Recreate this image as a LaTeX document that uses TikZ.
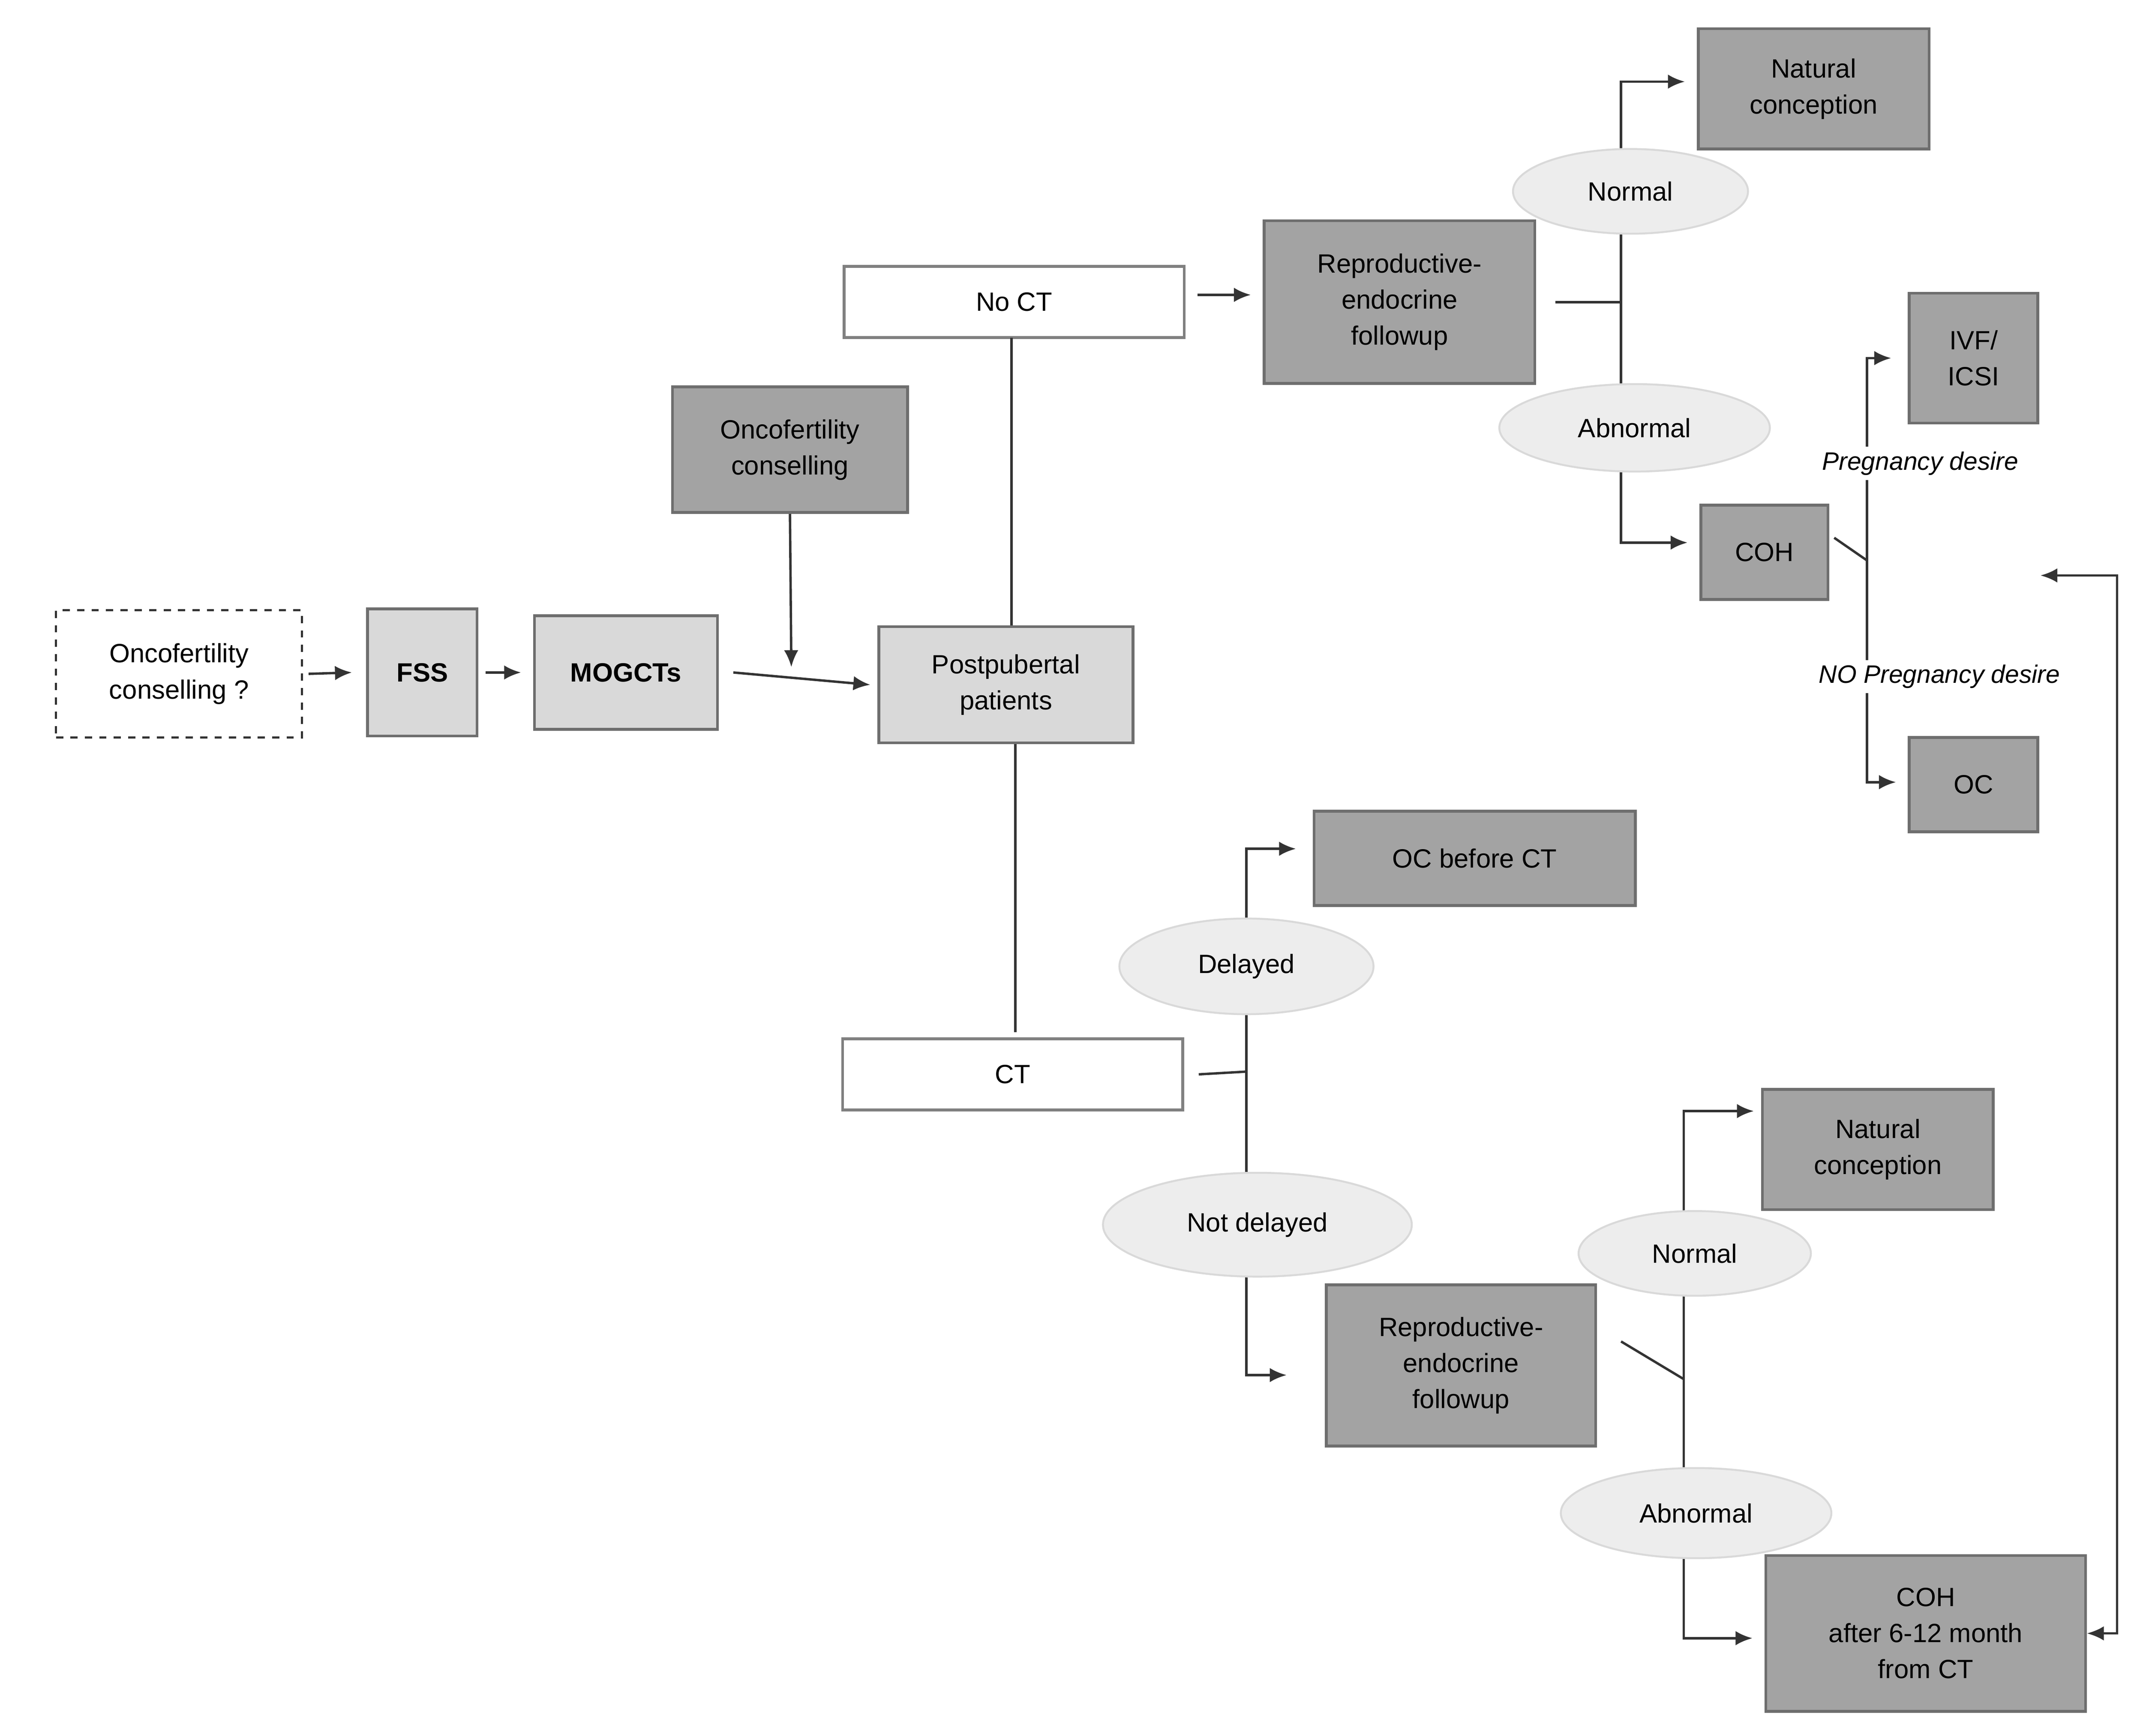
\documentclass[tikz,border=0pt]{standalone}
\usepackage{fontspec}
\setmainfont{Liberation Sans}
\usetikzlibrary{arrows.meta,shapes.geometric}
\definecolor{dk}{HTML}{A3A3A3}
\definecolor{dkb}{HTML}{6E6E6E}
\definecolor{lt}{HTML}{D9D9D9}
\definecolor{el}{HTML}{EDEDED}
\definecolor{ln}{HTML}{333333}
\begin{document}
\begin{tikzpicture}[x=0.02cm,y=-0.02cm,
  font=\fontsize{11}{15}\selectfont,
  box/.style={draw=dkb,line width=1.2pt,align=center,inner sep=0pt},
  dark/.style={box,fill=dk},
  light/.style={box,fill=lt},
  white/.style={box,fill=white,draw=gray},
  ell/.style={ellipse,draw=lt,fill=el,line width=0.8pt,inner sep=0pt,align=center},
  lab/.style={fill=white,font=\fontsize{10.5}{13}\selectfont\itshape,inner sep=2pt},
  con/.style={draw=ln,line width=1pt},
  arr/.style={con,-{Latex[length=7pt,width=6pt]}}]
\useasboundingbox (0,0) rectangle (1568,1270);
% nodes
\node[box,dashed,draw=ln,line width=0.9pt,minimum width=180\pgflinewidth*0+3.6cm,minimum height=1.86cm] (dq) at (131,493) {Oncofertility\\conselling ?};
\node[light,minimum width=1.6cm,minimum height=1.86cm,font=\fontsize{11}{15}\selectfont\bfseries] (fss) at (309,492) {FSS};
\node[light,minimum width=2.68cm,minimum height=1.66cm,font=\fontsize{11}{15}\selectfont\bfseries] (mog) at (458,492) {MOGCTs};
\node[dark,minimum width=3.44cm,minimum height=1.84cm] (onc) at (578,329) {Oncofertility\\conselling};
\node[light,minimum width=3.72cm,minimum height=1.7cm] (pp) at (736,501) {Postpubertal\\patients};
\node[white,minimum width=4.98cm,minimum height=1.04cm] (noct) at (742,221) {No CT};
\node[white,minimum width=4.98cm,minimum height=1.04cm] (ct) at (741,786) {CT};
\node[dark,minimum width=3.96cm,minimum height=2.38cm] (rt) at (1024,221) {Reproductive-\\endocrine\\followup};
\node[dark,minimum width=3.38cm,minimum height=1.76cm] (nct) at (1327,65) {Natural\\conception};
\node[dark,minimum width=1.86cm,minimum height=1.38cm] (coh) at (1291,404) {COH};
\node[dark,minimum width=1.88cm,minimum height=1.9cm] (ivf) at (1444,262) {IVF/\\ICSI};
\node[dark,minimum width=1.88cm,minimum height=1.38cm] (oc) at (1444,574) {OC};
\node[dark,minimum width=4.7cm,minimum height=1.38cm] (ocb) at (1079,628) {OC before CT};
\node[dark,minimum width=3.94cm,minimum height=2.36cm] (rb) at (1069,999) {Reproductive-\\endocrine\\followup};
\node[dark,minimum width=3.38cm,minimum height=1.76cm] (ncb) at (1374,841) {Natural\\conception};
\node[dark,minimum width=4.68cm,minimum height=2.28cm] (cohb) at (1409,1195) {COH\\after 6-12 month\\from CT};
\coordinate (fb) at (1493,421);
% connectors
\draw[arr] (dq.east) ++(4,0) -- ([xshift=-6]fss.west);
\draw[arr] ([xshift=3]fss.east) -- ([xshift=-5]mog.west);
\draw[arr] ([xshift=6]mog.east) -- ([xshift=-3]pp.west);
\draw[arr] (onc.south) -- (579,488);
\draw[con] (pp.north) ++(4,0) -- (740,247);
\draw[con] (pp.south) ++(7,0) -- (743,755);
\draw[arr] ([xshift=5,yshift=3]noct.east) -- ([xshift=-5,yshift=3]rt.west);
\draw[con] ([xshift=8]rt.east) -- (1186,221);
\draw[arr] (1186,221) |- ([xshift=-5,yshift=3]nct.west);
\draw[arr] (1186,221) |- ([xshift=-5,yshift=4]coh.west);
\draw[con] ([xshift=2,yshift=6]coh.east) -- (1366,410);
\draw[arr] (1366,410) |- ([xshift=-7]ivf.west);
\draw[arr] (1366,410) |- ([xshift=-5,yshift=1]oc.west);
\draw[con] ([xshift=6]ct.east) -- (912,784);
\draw[arr] (912,784) |- ([xshift=-7,yshift=4]ocb.west);
\draw[arr] (912,784) |- ([xshift=-16,yshift=-4]rb.west);
\draw[con] ([xshift=10,yshift=10]rb.east) -- (1232,1009);
\draw[arr] (1232,1009) |- ([xshift=-3,yshift=16]ncb.west);
\draw[arr] (1232,1009) |- ([xshift=-5,yshift=-2]cohb.west);
\draw[con,{Latex[length=7pt,width=6pt]}-{Latex[length=7pt,width=6pt]}] (fb) -| (1549,1195) -- (cohb.east);
% labels on top
\node[ell,minimum width=3.44cm,minimum height=1.24cm] (n1) at (1193,140) {Normal};
\node[ell,minimum width=3.96cm,minimum height=1.28cm] (a1) at (1196,313) {Abnormal};
\node[lab] (pd) at (1405,339) {Pregnancy desire};
\node[lab] (npd) at (1419,495) {NO Pregnancy desire};
\node[ell,minimum width=3.72cm,minimum height=1.4cm] (de) at (912,707) {Delayed};
\node[ell,minimum width=4.52cm,minimum height=1.52cm] (nd) at (920,896) {Not delayed};
\node[ell,minimum width=3.4cm,minimum height=1.24cm] (n2) at (1240,917) {Normal};
\node[ell,minimum width=3.96cm,minimum height=1.32cm] (a2) at (1241,1107) {Abnormal};
\end{tikzpicture}
\end{document}
